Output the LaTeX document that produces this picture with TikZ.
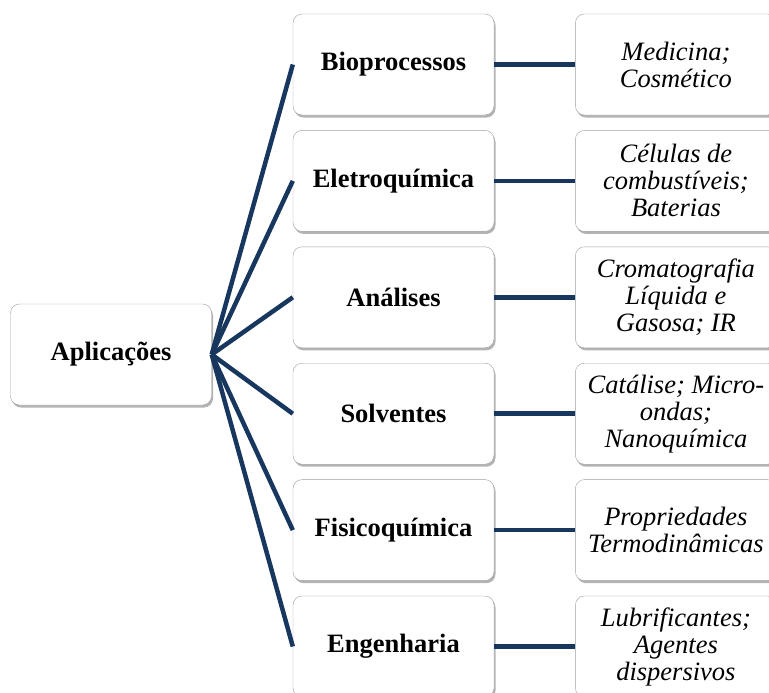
\documentclass[tikz,border=0pt]{standalone}
\usepackage{fontspec}
\setmainfont{Liberation Serif}
\usetikzlibrary{positioning,shadows}
\definecolor{azulescuro}{RGB}{23,55,94}

\tikzset{
  caixa/.style={draw=gray!75, fill=white, rounded corners=9pt,
    minimum width=201pt, minimum height=101pt, inner sep=2pt, align=center,
    drop shadow={shadow xshift=1.5pt, shadow yshift=-2.5pt, opacity=0.6}},
  tema/.style={caixa, font=\fontsize{26.5}{27}\selectfont\bfseries},
  exemplo/.style={caixa, font=\fontsize{26.5}{27}\selectfont\itshape},
  ligacao/.style={line width=4.5pt, azulescuro},
}

\begin{document}
\begin{tikzpicture}[x=1pt,y=-1pt]
\useasboundingbox (0,0) rectangle (769,693);

% raiz
\node[tema] (aplic) at (111,354.5) {Aplicações};

% areas
\node[tema] (bio) at (393.5,64.5) {Bioprocessos};
\node[tema, below=15pt of bio] (eletro) {Eletroquímica};
\node[tema, below=15pt of eletro] (analise) {Análises};
\node[tema, below=15pt of analise] (solv) {Solventes};
\node[tema, below=15pt of solv] (fisico) {Fisicoquímica};
\node[tema, below=15pt of fisico] (eng) {Engenharia};

% exemplos
\node[exemplo, right=81pt of bio] (med) {Medicina;\\Cosmético};
\node[exemplo, right=81pt of eletro] (cel) {Células de\\combustíveis;\\Baterias};
\node[exemplo, right=81pt of analise] (crom) {Cromatografia\\Líquida e\\Gasosa; IR};
\node[exemplo, right=81pt of solv] (cat) {Catálise; Micro-\\ondas;\\Nanoquímica};
\node[exemplo, right=81pt of fisico] (prop) {Propriedades\\Termodinâmicas};
\node[exemplo, right=81pt of eng] (lub) {Lubrificantes;\\Agentes\\dispersivos};

\draw[ligacao] (aplic.east)--(bio.west);
\draw[ligacao] (aplic.east)--(eletro.west);
\draw[ligacao] (aplic.east)--(analise.west);
\draw[ligacao] (aplic.east)--(solv.west);
\draw[ligacao] (aplic.east)--(fisico.west);
\draw[ligacao] (aplic.east)--(eng.west);

\draw[ligacao] (bio.east)--(med.west);
\draw[ligacao] (eletro.east)--(cel.west);
\draw[ligacao] (analise.east)--(crom.west);
\draw[ligacao] (solv.east)--(cat.west);
\draw[ligacao] (fisico.east)--(prop.west);
\draw[ligacao] (eng.east)--(lub.west);
\end{tikzpicture}
\end{document}
